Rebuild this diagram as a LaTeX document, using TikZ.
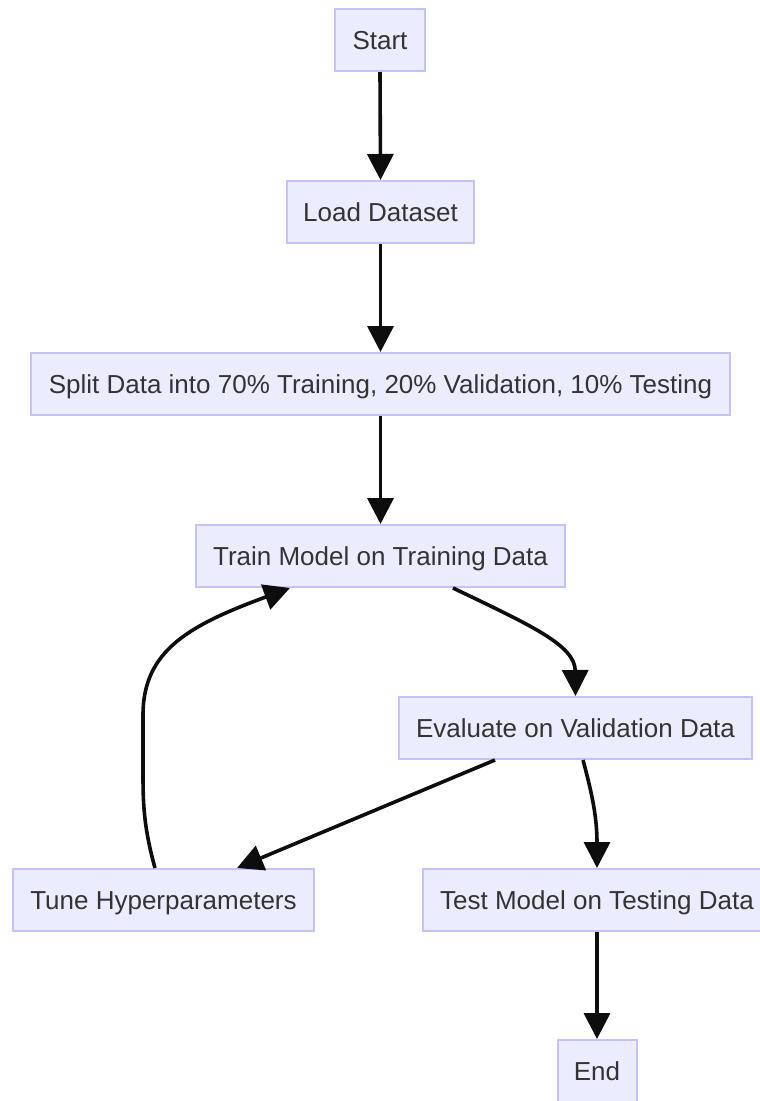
\documentclass[tikz,border=0pt]{standalone}
\usepackage{fontspec}
\setmainfont{Liberation Sans}
\usetikzlibrary{arrows.meta}
\definecolor{boxfill}{HTML}{ECECFF}
\definecolor{boxline}{HTML}{C3C3FA}
\definecolor{txt}{HTML}{333333}
\definecolor{arr}{HTML}{0D0D0D}
\begin{document}
\begin{tikzpicture}[x=1pt,y=-1pt,
  box/.style={draw=boxline,line width=2pt,fill=boxfill,text=txt,inner sep=0pt,
    text height=18.6pt,text depth=0pt,
    minimum height=62pt,font=\fontsize{26}{30}\selectfont},
  flow/.style={draw=arr,line width=3.6pt,-{Triangle[length=26pt,width=26pt]}}]
\useasboundingbox (0,0) rectangle (760,1101);
\node[box,minimum width=90pt] (start) at (380,40) {Start};
\node[box,minimum width=187pt] (load) at (380.5,212) {Load Dataset};
\node[box,minimum width=699pt] (split) at (380.5,384) {Split Data into 70\% Training, 20\% Validation, 10\% Testing};
\node[box,minimum width=369pt] (train) at (380.5,556) {Train Model on Training Data};
\node[box,minimum width=353pt] (eval) at (575.5,728) {Evaluate on Validation Data};
\node[box,minimum width=301pt] (tune) at (163.5,900) {Tune Hyperparameters};
\node[box,minimum width=348pt] (test) at (597,900) {Test Model on Testing Data};
\node[box,minimum width=79pt] (end) at (597,1071) {End};
\draw[flow] (start.south) -- (load.north);
\draw[flow] (load.south) -- (split.north);
\draw[flow] (split.south) -- (train.north);
\draw[flow] ([xshift=72.5pt]train.south) .. controls (530,625) and (575,645) .. (eval.north);
\draw[flow] ([xshift=-80.5pt]eval.south) -- ([xshift=73.5pt]tune.north);
\draw[flow] ([xshift=7.5pt]eval.south) .. controls (591,790) and (597,815) .. (test.north);
\draw[flow] ([xshift=-8.5pt]tune.north) .. controls (143,825) and (143,800) .. (143,770)
  -- (143,715) .. controls (143,650) and (190,625) .. ([xshift=-90.5pt]train.south);
\draw[flow] (test.south) -- (end.north);
\end{tikzpicture}
\end{document}
